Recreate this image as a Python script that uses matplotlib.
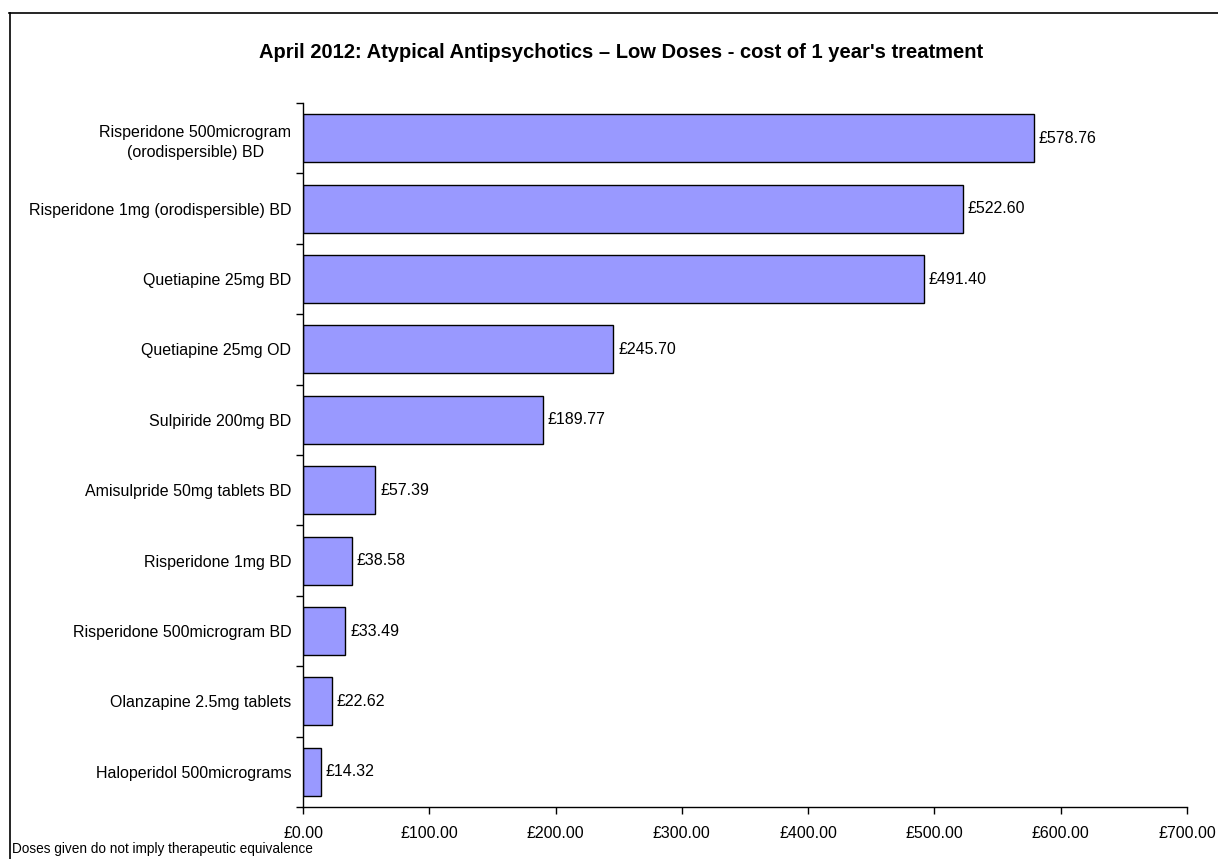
import matplotlib
matplotlib.use("Agg")
import matplotlib.pyplot as plt
from matplotlib.lines import Line2D

plt.rcParams['font.family'] = ['Liberation Sans', 'DejaVu Sans']

categories = [
    "Risperidone 500microgram\n(orodispersible) BD",
    "Risperidone 1mg (orodispersible) BD",
    "Quetiapine 25mg BD",
    "Quetiapine 25mg OD",
    "Sulpiride 200mg BD",
    "Amisulpride 50mg tablets BD",
    "Risperidone 1mg BD",
    "Risperidone 500microgram BD",
    "Olanzapine 2.5mg tablets",
    "Haloperidol 500micrograms",
]
costs = [578.76, 522.60, 491.40, 245.70, 189.77, 57.39, 38.58, 33.49, 22.62, 14.32]
xticks = [0, 100, 200, 300, 400, 500, 600, 700]
title = "April 2012: Atypical Antipsychotics \u2013 Low Doses - cost of 1 year's treatment"
footnote = "Doses given do not imply therapeutic equivalence"

W, H = 1218, 859
fig = plt.figure(figsize=(W / 100, H / 100), dpi=100)
ax = fig.add_axes([303 / W, 1 - 807 / H, (1187 - 303) / W, (807 - 103) / H])

n = len(categories)
ypos = list(range(n))
ax.barh(ypos, costs, height=0.68, color='#9999FF', edgecolor='black', linewidth=1.0)
ax.set_ylim(n - 0.5, -0.5)
ax.set_xlim(0, 700)

for y, v in zip(ypos, costs):
    ax.annotate(f"\u00a3{v:.2f}", (v, y), xytext=(3.5, 0), textcoords='offset points',
                va='center', ha='left', fontsize=11.5)

ax.set_xticks(xticks)
ax.set_xticklabels([f"\u00a3{t:.2f}" for t in xticks], fontsize=11.5)
ax.set_yticks(ypos)
ax.set_yticklabels(categories, fontsize=11.5, ha='right', multialignment='center',
                   linespacing=1.45)
ax.set_yticks([i - 0.5 for i in range(n + 1)], minor=True)
ax.tick_params(axis='y', which='major', length=0, pad=8.5)
ax.tick_params(axis='y', which='minor', length=5, width=1, direction='out')
ax.tick_params(axis='x', which='major', length=5, width=1, direction='out', pad=9)
for s in ['top', 'right']:
    ax.spines[s].set_visible(False)
for s in ['left', 'bottom']:
    ax.spines[s].set_linewidth(1.0)

fig.text(621.5 / W, 1 - 53 / H, title, ha='center', va='center',
         fontsize=14.5, fontweight='bold')
fig.text(12 / W, 1 - 849 / H, footnote, ha='left', va='center', fontsize=9.8)

fig.add_artist(Line2D([9 / W, 1], [1 - 12.5 / H, 1 - 12.5 / H], transform=fig.transFigure,
                      color='black', linewidth=1.2))
fig.add_artist(Line2D([9.5 / W, 9.5 / W], [0, 1 - 12.5 / H], transform=fig.transFigure,
                      color='black', linewidth=1.2))

fig.savefig("out.png", dpi=100)
